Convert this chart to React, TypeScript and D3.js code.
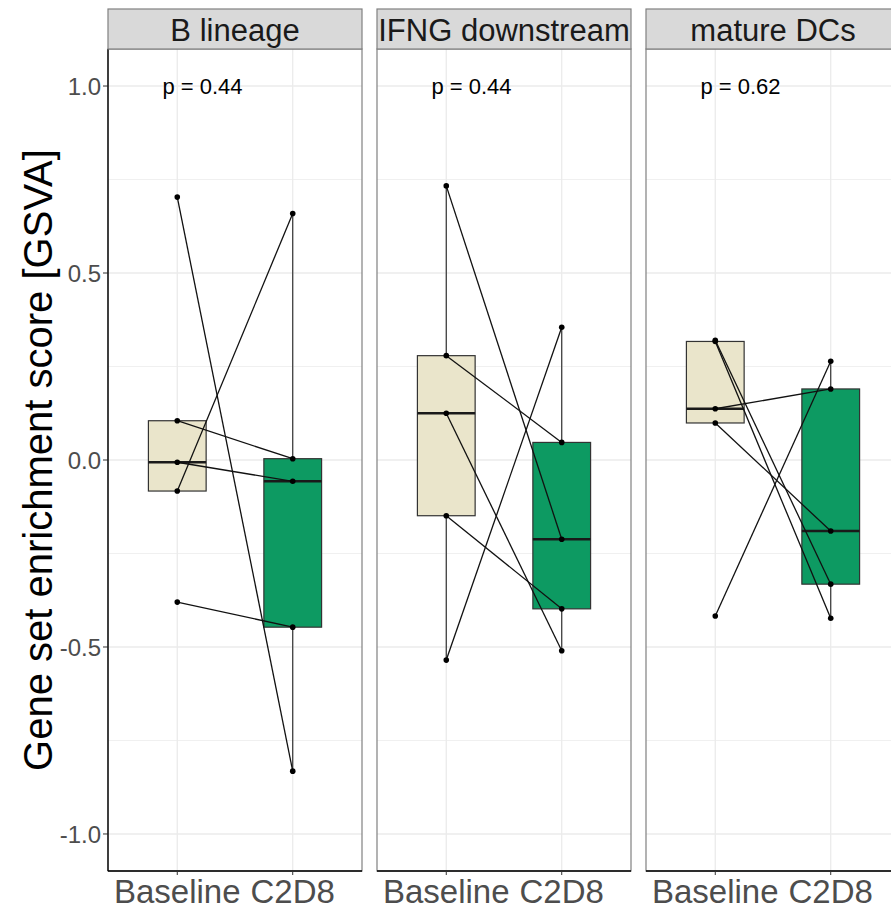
import React from "react";
import * as d3 from "d3";

const panels = ["B lineage", "IFNG downstream", "mature DCs"];
const groups = ["Baseline", "C2D8"];
const pValues = ["p = 0.44", "p = 0.44", "p = 0.62"];
const yTicks = [-1.0, -0.5, 0.0, 0.5, 1.0];
const yMinor = [-0.75, -0.25, 0.25, 0.75];

// paired values (index i in baseline pairs with index i in C2D8)
const bLineageBaseline = [0.703, 0.105, -0.006, -0.083, -0.38];
const bLineageC2D8 = [-0.832, 0.0035, -0.057, 0.659, -0.447];
const ifngBaseline = [0.733, 0.279, 0.125, -0.149, -0.535];
const ifngC2D8 = [-0.212, 0.047, -0.51, -0.398, 0.355];
const dcBaseline = [0.32, 0.317, 0.137, 0.099, -0.417];
const dcC2D8 = [-0.332, -0.423, 0.19, -0.19, 0.264];

const panelData = [
  [bLineageBaseline, bLineageC2D8],
  [ifngBaseline, ifngC2D8],
  [dcBaseline, dcC2D8],
];

const fills = ["#EAE5CB", "#0D9A62"];
const FONT = "'Liberation Sans', Arial, Helvetica, sans-serif";

function boxStats(vals: number[]) {
  const s = [...vals].sort((a, b) => a - b);
  const q1 = d3.quantile(s, 0.25)!;
  const med = d3.quantile(s, 0.5)!;
  const q3 = d3.quantile(s, 0.75)!;
  const iqr = q3 - q1;
  const lo = d3.min(s.filter((v) => v >= q1 - 1.5 * iqr))!;
  const hi = d3.max(s.filter((v) => v <= q3 + 1.5 * iqr))!;
  return { q1, med, q3, lo, hi };
}

const fmt = (t: number) => d3.format(".1f")(t).replace("\u2212", "-");

export default function App() {
  const W = 891;
  const H = 909;
  const top = 49;
  const bottom = 871;
  const stripTop = 9;
  const firstLeft = 108;
  const panelW = 254;
  const gap = 15;

  const y = d3.scaleLinear().domain([-1.099, 1.099]).range([bottom, top]);

  return (
    <svg
      width={W}
      height={H}
      style={{ position: "absolute", left: 0, top: 0, background: "#fff" }}
      fontFamily={FONT}
    >
      <defs>
        {panels.map((p, i) => {
          const left = firstLeft + i * (panelW + gap);
          return (
            <clipPath id={`strip${i}`} key={p}>
              <rect x={left} y={stripTop} width={panelW} height={top - stripTop} />
            </clipPath>
          );
        })}
      </defs>
      {/* y axis title */}
      <text
        transform={`translate(52,${(top + bottom) / 2}) rotate(-90)`}
        textAnchor="middle"
        fontSize={40}
        fill="#000"
      >
        Gene set enrichment score [GSVA]
      </text>
      {/* y tick labels */}
      {yTicks.map((t) => (
        <g key={t}>
          <text
            x={101}
            y={y(t)}
            dy="0.36em"
            textAnchor="end"
            fontSize={24}
            fill="#4D4D4D"
          >
            {fmt(t)}
          </text>
          <line x1={103} x2={firstLeft} y1={y(t)} y2={y(t)} stroke="#333" strokeWidth={1} />
        </g>
      ))}
      {panels.map((name, i) => {
        const left = firstLeft + i * (panelW + gap);
        // discrete scale with expansion 0.6 on each side
        const xs = d3.scaleLinear().domain([0.4, 2.6]).range([left, left + panelW]);
        const gx = (g: string) => xs(groups.indexOf(g) + 1);
        const unit = xs(2) - xs(1);
        const boxW = unit * 0.5;
        const [base, post] = panelData[i];
        const series = [base, post];
        return (
          <g key={name}>
            {/* background & grid */}
            <rect x={left} y={top} width={panelW} height={bottom - top} fill="#fff" />
            {yMinor.map((t) => (
              <line key={"m" + t} x1={left} x2={left + panelW} y1={y(t)} y2={y(t)} stroke="#F0F0F0" strokeWidth={1} />
            ))}
            {yTicks.map((t) => (
              <line key={"M" + t} x1={left} x2={left + panelW} y1={y(t)} y2={y(t)} stroke="#EBEBEB" strokeWidth={1.3} />
            ))}
            {groups.map((g) => (
              <line key={g} x1={gx(g)} x2={gx(g)} y1={top} y2={bottom} stroke="#EBEBEB" strokeWidth={1.3} />
            ))}
            {/* boxes */}
            {groups.map((g, gi) => {
              const st = boxStats(series[gi]);
              const cx = gx(g);
              return (
                <g key={"box" + g}>
                  <line x1={cx} x2={cx} y1={y(st.hi)} y2={y(st.q3)} stroke="#333" strokeWidth={1.2} />
                  <line x1={cx} x2={cx} y1={y(st.q1)} y2={y(st.lo)} stroke="#333" strokeWidth={1.2} />
                  <rect
                    x={cx - boxW / 2}
                    y={y(st.q3)}
                    width={boxW}
                    height={y(st.q1) - y(st.q3)}
                    fill={fills[gi]}
                    stroke="#333"
                    strokeWidth={1.2}
                  />
                  <line x1={cx - boxW / 2} x2={cx + boxW / 2} y1={y(st.med)} y2={y(st.med)} stroke="#1a1a1a" strokeWidth={2.6} />
                </g>
              );
            })}
            {/* paired lines */}
            {base.map((v, k) => (
              <line
                key={"l" + k}
                x1={gx(groups[0])}
                y1={y(v)}
                x2={gx(groups[1])}
                y2={y(post[k])}
                stroke="#111"
                strokeWidth={1.3}
              />
            ))}
            {/* points */}
            {groups.map((g, gi) =>
              series[gi].map((v, k) => (
                <circle key={g + k} cx={gx(g)} cy={y(v)} r={2.8} fill="#000" />
              ))
            )}
            {/* p value */}
            <text
              x={left + 94.5}
              y={y(1.0)}
              dy="0.36em"
              textAnchor="middle"
              fontSize={22}
              fill="#000"
            >
              {pValues[i]}
            </text>
            {/* panel border */}
            <rect x={left} y={top} width={panelW} height={bottom - top} fill="none" stroke="#808080" strokeWidth={1.2} />
            {/* axis lines */}
            <line x1={left} x2={left + panelW} y1={bottom} y2={bottom} stroke="#000" strokeWidth={1.3} />
            {i === 0 && <line x1={left} x2={left} y1={top} y2={bottom} stroke="#000" strokeWidth={1.3} />}
            {/* x ticks & labels */}
            {groups.map((g) => (
              <g key={"t" + g}>
                <line x1={gx(g)} x2={gx(g)} y1={bottom} y2={bottom + 4} stroke="#333" strokeWidth={1} />
                <text x={gx(g)} y={903} textAnchor="middle" fontSize={33} fill="#4D4D4D">
                  {g}
                </text>
              </g>
            ))}
            {/* strip */}
            <rect x={left} y={stripTop} width={panelW} height={top - stripTop} fill="#D9D9D9" stroke="#808080" strokeWidth={1.2} />
            <g clipPath={`url(#strip${i})`}>
              <text x={left + panelW / 2} y={41} textAnchor="middle" fontSize={31} fill="#1A1A1A">
                {name}
              </text>
            </g>
          </g>
        );
      })}
    </svg>
  );
}
